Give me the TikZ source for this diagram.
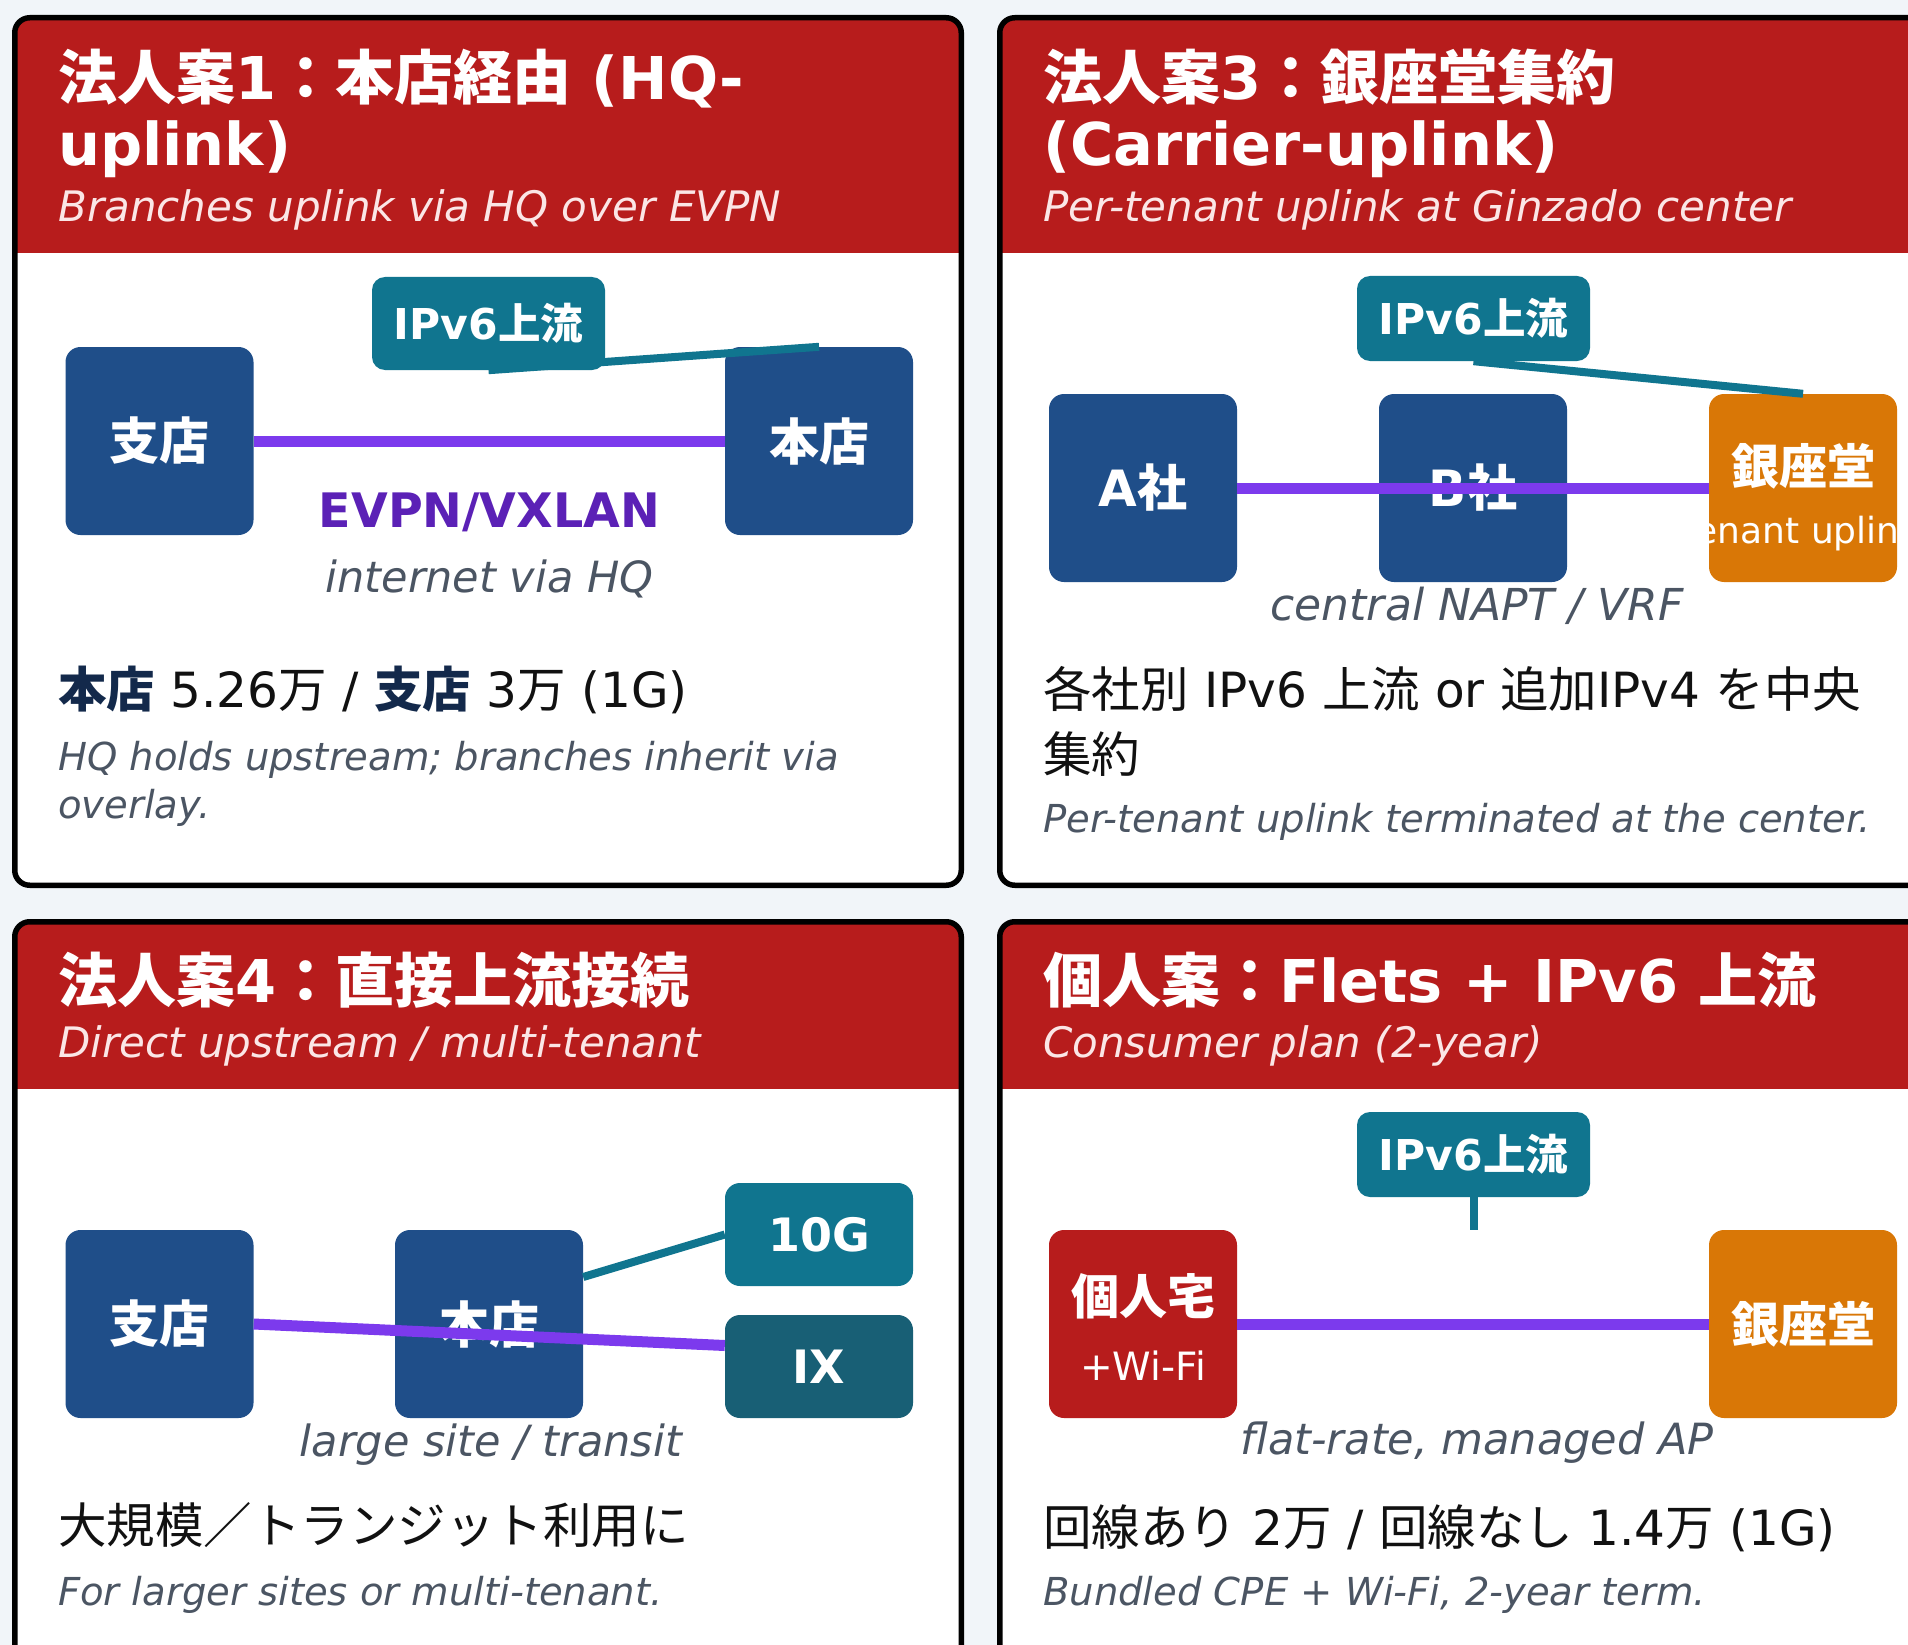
\documentclass[tikz,border=0pt]{standalone}
\usepackage{fontspec}
\setmainfont{DejaVu Sans}[ItalicFont={DejaVu Sans Oblique},BoldFont={DejaVu Sans Bold},BoldItalicFont={DejaVu Sans Bold Oblique}]
\newfontfamily\jp{Noto Sans CJK JP}
\newcommand\J[1]{{\jp #1}}
\usetikzlibrary{calc}
\definecolor{bg}{HTML}{F1F5F9}
\definecolor{hdr}{HTML}{B71C1C}
\definecolor{boxblue}{HTML}{1F4E89}
\definecolor{tealc}{HTML}{10758F}
\definecolor{ixc}{HTML}{185F75}
\definecolor{orangec}{HTML}{D97706}
\definecolor{redbox}{HTML}{B71C1C}
\definecolor{vio}{HTML}{7C3AED}
\definecolor{evpn}{HTML}{5B21B6}
\definecolor{slatec}{HTML}{4B5563}
\definecolor{ink}{HTML}{111111}
\definecolor{navytxt}{HTML}{13294B}
\definecolor{subw}{HTML}{FBE6E6}
\newcommand\mycard[5]{%
  \begin{scope}
    \clip[rounded corners=12] (#1+4,#2+4) rectangle (#3-4,#4-4);
    \fill[white] (#1,#2) rectangle (#3,#4);
    \fill[hdr] (#1,#2) rectangle (#3,#5);
  \end{scope}
  \draw[line width=5.5, rounded corners=15] (#1+2.75,#2+2.75) rectangle (#3-2.75,#4-2.75);
}
\begin{document}
\begin{tikzpicture}[x=1pt,y=-1pt,
  boxn/.style={rectangle, rounded corners=15, minimum width=188, minimum height=188, inner sep=0, text=white, font=\bfseries\fontsize{50}{54}\selectfont},
  tagn/.style={rectangle, rounded corners=13, fill=tealc, text=white, inner sep=0, minimum width=233, minimum height=85, font=\bfseries\fontsize{42.5}{46}\selectfont},
  purp/.style={draw=vio, line width=11},
  tline/.style={draw=tealc, line width=8},
  ttl/.style={anchor=base west, inner sep=0, text=white, font=\bfseries\fontsize{59}{64}\selectfont},
  subt/.style={anchor=base west, inner sep=0, text=subw, font=\itshape\fontsize{42}{46}\selectfont},
  bodytxt/.style={anchor=base west, inner sep=0, text=ink, font=\fontsize{48.5}{52}\selectfont},
  notetxt/.style={anchor=base west, inner sep=0, text=slatec, font=\itshape\fontsize{38.5}{44}\selectfont},
  capt/.style={anchor=base, inner sep=0, text=slatec, font=\itshape\fontsize{43}{46}\selectfont},
  boxsub/.style={anchor=base, inner sep=0, text=white, font=\fontsize{39}{44}\selectfont}
]
\useasboundingbox (0,0) rectangle (1908,1645);
\clip (0,0) rectangle (1908,1645);
\fill[bg] (0,0) rectangle (1908,1645);

% cards
\mycard{12}{15}{964}{888}{253}
\mycard{997}{15}{1949}{888}{253}
\mycard{12}{919}{964}{1720}{1089}
\mycard{997}{919}{1949}{1720}{1089}

% ---------- card 1 ----------
\node[ttl] (t1a) at (58,100) {\J{法人案}1\J{：本店経由} (HQ-};
\node[ttl] (t1b) at (58,166) {uplink)};
\node[subt] (s1) at (58,222) {Branches uplink via HQ over EVPN};
\node[boxn, fill=boxblue] (br1) at (159.5,441) {\J{支店}};
\node[boxn, fill=boxblue] (hq1) at (819,441) {\J{本店}};
\node[tagn, minimum height=93] (tag1) at (488.5,323.5) {IPv6\J{上流}};
\node[anchor=base, inner sep=0, text=evpn, font=\bfseries\fontsize{47.5}{50}\selectfont] (evpn1) at (489.5,527) {EVPN/VXLAN};
\node[capt] (c1) at (489.5,592) {internet via HQ};
\node[bodytxt] (p1) at (58,707) {{\bfseries\color{navytxt}\J{本店}} 5.26\J{万} / {\bfseries\color{navytxt}\J{支店}} 3\J{万} (1G)};
\node[notetxt] (n1a) at (58,770) {HQ holds upstream; branches inherit via};
\node[notetxt] (n1b) at (58,818) {overlay.};
\draw[purp] (br1.east) -- (hq1.west);
\draw[tline] (tag1.south) -- (hq1.north);

% ---------- card 3 ----------
\node[ttl] (t3a) at (1043,100) {\J{法人案}3\J{：銀座堂集約}};
\node[ttl] (t3b) at (1043,166) {(Carrier-uplink)};
\node[subt] (s3) at (1043,222) {Per-tenant uplink at Ginzado center};
\node[boxn, fill=boxblue] (a3) at (1143,488) {A\J{社}};
\node[boxn, fill=boxblue] (b3) at (1473,488) {B\J{社}};
\node[boxn, fill=orangec] (g3) at (1803,488) {};
\node[anchor=center, inner sep=0, text=white, font=\bfseries\fontsize{48}{52}\selectfont] (g3lab) at (1803,466) {\J{銀座堂}};
\begin{scope}
  \clip[rounded corners=15] (g3.north west) rectangle (g3.south east);
  \node[boxsub, font=\fontsize{36}{40}\selectfont] (g3sub) at (1801,543) {tenant uplink};
\end{scope}
\node[tagn] (tag3) at (1473.5,318.5) {IPv6\J{上流}};
\node[capt, font=\itshape\fontsize{44}{48}\selectfont] (c3) at (1477,620) {central NAPT / VRF};
\node[bodytxt] (p3a) at (1043,707) {\J{各社別} IPv6 \J{上流} or \J{追加}IPv4 \J{を中央}};
\node[bodytxt] (p3b) at (1043,772) {\J{集約}};
\node[notetxt] (n3) at (1043,832) {Per-tenant uplink terminated at the center.};
\draw[purp] (a3.east) -- (g3.west);
\draw[tline] (tag3.south) -- (g3.north);

% ---------- card 4 ----------
\node[ttl] (t4) at (58,1002) {\J{法人案}4\J{：直接上流接続}};
\node[subt] (s4) at (58,1057) {Direct upstream / multi-tenant};
\node[boxn, fill=boxblue] (br4) at (159.5,1324) {\J{支店}};
\node[boxn, fill=boxblue] (hq4) at (489,1324) {\J{本店}};
\node[boxn, fill=tealc, minimum height=103, font=\bfseries\fontsize{46}{50}\selectfont] (g10) at (819,1234.5) {10G};
\node[boxn, fill=ixc, minimum height=103, font=\bfseries\fontsize{46}{50}\selectfont] (ix4) at (819,1366.5) {IX};
\node[capt] (c4) at (491,1456) {large site / transit};
\node[bodytxt] (p4) at (58,1543) {\J{大規模／トランジット利用に}};
\node[notetxt] (n4) at (58,1605) {For larger sites or multi-tenant.};
\draw[tline] ($(hq4.east)+(0,-47)$) -- (g10.west);
\draw[purp] (br4.east) -- ($(ix4.west)+(0,-21)$);

% ---------- card 5 ----------
\node[ttl] (t5) at (1043,1002) {\J{個人案：}Flets + IPv6 \J{上流}};
\node[subt] (s5) at (1043,1057) {Consumer plan (2-year)};
\node[tagn] (tag5) at (1473.5,1154.5) {IPv6\J{上流}};
\coordinate (j5) at (1473.5,1230);
\node[boxn, fill=redbox] (home5) at (1143,1324) {};
\node[anchor=center, inner sep=0, text=white, font=\bfseries\fontsize{48}{52}\selectfont] (home5lab) at (1143,1296) {\J{個人宅}};
\node[boxsub] (home5sub) at (1143,1380) {+Wi-Fi};
\node[boxn, fill=orangec, font=\bfseries\fontsize{48}{52}\selectfont] (g5) at (1803,1324) {\J{銀座堂}};
\node[capt] (c5) at (1477,1454) {flat-rate, managed AP};
\node[bodytxt] (p5) at (1043,1545) {\J{回線あり} 2\J{万} / \J{回線なし} 1.4\J{万} (1G)};
\node[notetxt] (n5) at (1043,1605) {Bundled CPE + Wi-Fi, 2-year term.};
\draw[tline] (tag5.south) -- (j5);
\draw[purp] (home5.east) -- (g5.west);
\end{tikzpicture}
\end{document}
